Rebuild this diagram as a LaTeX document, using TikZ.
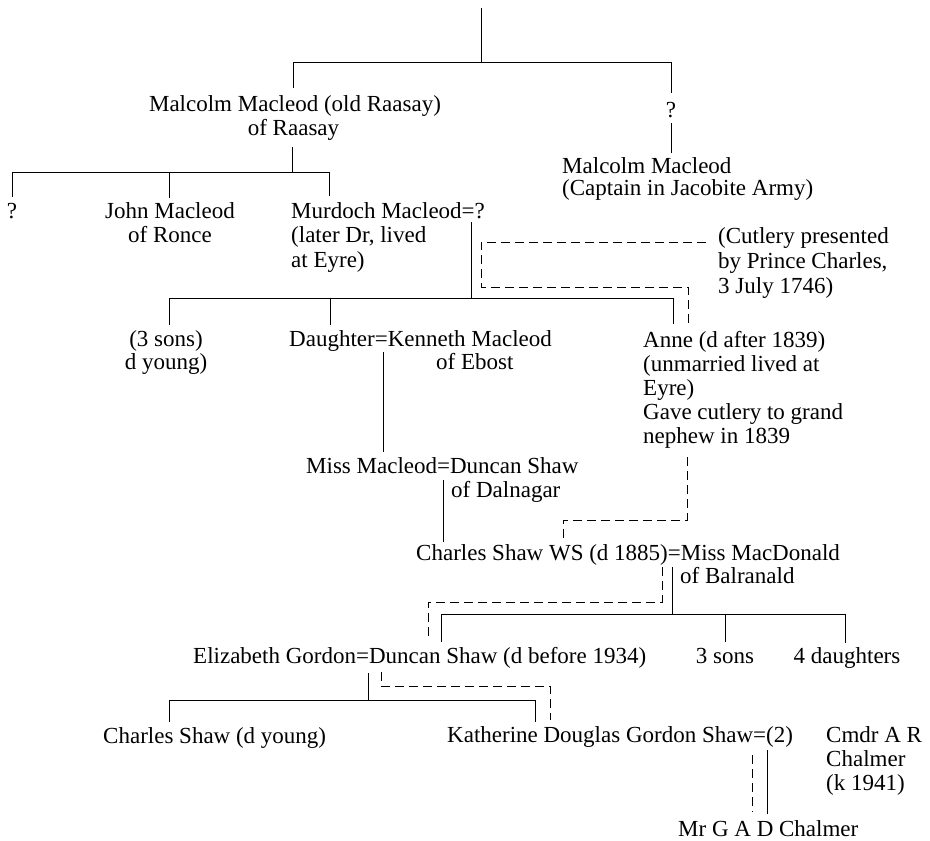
\documentclass[tikz,border=0pt]{standalone}
\usepackage{fontspec}
\setmainfont{Liberation Serif}
\newcommand\famfs{\fontsize{23}{24}\selectfont}
\tikzset{
  lbl/.style={inner sep=0pt, anchor=base west, font=\famfs},
  lblc/.style={inner sep=0pt, anchor=base, font=\famfs},
  solidline/.style={line width=0.9pt},
  dashline/.style={line width=0.9pt, dash pattern=on 9pt off 5pt},
}
\begin{document}
\begin{tikzpicture}[x=1pt,y=-1pt]
\useasboundingbox[fill=white] (0,0) rectangle (930,841);
% ---- text nodes
\node[lblc] (mm1) at (295,111) {Malcolm Macleod (old Raasay)};
\node[lblc] (mm2) at (293.5,135) {of Raasay};
\node[lblc] (q1) at (671,117) {?};
\node[lbl] (mc1) at (562,173) {Malcolm Macleod};
\node[lbl] (mc2) at (562,195) {(Captain in Jacobite Army)};
\node[lblc] (q2) at (12,218) {?};
\node[lblc] (jm1) at (170,218) {John Macleod};
\node[lblc] (jm2) at (170,242) {of Ronce};
\node[lbl] (md1) at (291,218) {Murdoch Macleod=?};
\node[lbl] (md2) at (291,242) {(later Dr, lived};
\node[lbl] (md3) at (291,267) {at Eyre)};
\node[lbl] (cu1) at (718,243) {(Cutlery presented};
\node[lbl] (cu2) at (718,268) {by Prince Charles,};
\node[lbl] (cu3) at (718,293) {3 July 1746)};
\node[lblc] (ts1) at (166,346) {(3 sons)};
\node[lblc] (ts2) at (166,369) {d young)};
\node[lbl] (dk1) at (289,346) {Daughter=Kenneth Macleod};
\node[lbl] (dk2) at (436,369) {of Ebost};
\node[lbl] (an1) at (643,347) {Anne (d after 1839)};
\node[lbl] (an2) at (643,371) {(unmarried lived at};
\node[lbl] (an3) at (643,395) {Eyre)};
\node[lbl] (an4) at (643,419) {Gave cutlery to grand};
\node[lbl] (an5) at (643,443) {nephew in 1839};
\node[lbl] (mi1) at (306,473) {Miss Macleod=Duncan Shaw};
\node[lbl] (mi2) at (451,497) {of Dalnagar};
\node[lbl] (cs1) at (416,560) {Charles Shaw WS (d 1885)=Miss MacDonald};
\node[lbl] (cs2) at (680,583) {of Balranald};
\node[lbl] (eg) at (193,663) {Elizabeth Gordon=Duncan Shaw (d before 1934)};
\node[lblc] (sons) at (725,663) {3 sons};
\node[lblc] (dau) at (847,663) {4 daughters};
\node[lbl] (csy) at (103,743) {Charles Shaw (d young)};
\node[lbl] (kd) at (447,742) {Katherine Douglas Gordon Shaw=(2)};
\node[lbl] (cm1) at (826,742) {Cmdr A R};
\node[lbl] (cm2) at (826,766) {Chalmer};
\node[lbl] (cm3) at (826,790) {(k 1941)};
\node[lbl] (gad) at (678,836) {Mr G A D Chalmer};
% ---- junction coordinates
\coordinate (r0) at (481,8);
\coordinate (r1) at (481,62);
\coordinate (g1l) at (293,62);
\coordinate (g1r) at (671,62);
\coordinate (mmT) at (293,88);
\coordinate (q1T) at (671,93);
\coordinate (q1B) at (671,123);
\coordinate (mcT) at (671,153);
\coordinate (mmB) at (292,147);
\coordinate (g2c) at (292,172);
\coordinate (g2l) at (12,172);
\coordinate (g2m) at (169,172);
\coordinate (g2r) at (329,172);
\coordinate (q2T) at (12,197);
\coordinate (jmT) at (169,198);
\coordinate (mdT) at (329,196);
\coordinate (mdB) at (471,222);
\coordinate (g3c) at (471,298);
\coordinate (g3l) at (169,298);
\coordinate (g3m) at (330,298);
\coordinate (g3r) at (673,298);
\coordinate (tsT) at (169,325);
\coordinate (dkT) at (330,325);
\coordinate (anT) at (673,324);
\coordinate (dkB) at (383,352);
\coordinate (miT) at (383,452);
\coordinate (miB) at (443,480);
\coordinate (csT) at (443,542);
\coordinate (csB) at (672,567);
\coordinate (g4c) at (672,614);
\coordinate (g4l) at (441,614);
\coordinate (g4m) at (725,614);
\coordinate (g4r) at (845,614);
\coordinate (egT) at (441,642);
\coordinate (sonsT) at (725,642);
\coordinate (dauT) at (845,643);
\coordinate (egB) at (368,673);
\coordinate (g5c) at (368,700);
\coordinate (g5l) at (169,700);
\coordinate (g5r) at (535,700);
\coordinate (csyT) at (169,722);
\coordinate (kdT) at (535,722);
\coordinate (kdB) at (767,750);
\coordinate (gadT) at (767,814);
% dashed route points
\coordinate (d1a) at (706,242);
\coordinate (d1b) at (481,242);
\coordinate (d1c) at (481,287);
\coordinate (d1d) at (688,287);
\coordinate (d1e) at (688,324);
\coordinate (d2a) at (687,457);
\coordinate (d2b) at (687,520);
\coordinate (d2c) at (563,520);
\coordinate (d2d) at (563,538);
\coordinate (d3a) at (662,567);
\coordinate (d3b) at (662,602);
\coordinate (d3c) at (428,602);
\coordinate (d3d) at (428,640);
\coordinate (d4a) at (381,672);
\coordinate (d4b) at (381,686);
\coordinate (d4c) at (550,686);
\coordinate (d4d) at (550,720);
\coordinate (d5a) at (752,755);
\coordinate (d5b) at (752,812);
% ---- solid connectors
\draw[solidline] (r0) -- (r1);
\draw[solidline] (mmT) -- (g1l) -- (g1r) -- (q1T);
\draw[solidline] (q1B) -- (mcT);
\draw[solidline] (mmB) -- (g2c);
\draw[solidline] (q2T) -- (g2l) -- (g2r) -- (mdT);
\draw[solidline] (g2m) -- (jmT);
\draw[solidline] (mdB) -- (g3c);
\draw[solidline] (tsT) -- (g3l) -- (g3r) -- (anT);
\draw[solidline] (g3m) -- (dkT);
\draw[solidline] (dkB) -- (miT);
\draw[solidline] (miB) -- (csT);
\draw[solidline] (csB) -- (g4c);
\draw[solidline] (egT) -- (g4l) -- (g4r) -- (dauT);
\draw[solidline] (g4m) -- (sonsT);
\draw[solidline] (egB) -- (g5c);
\draw[solidline] (csyT) -- (g5l) -- (g5r) -- (kdT);
\draw[solidline] (kdB) -- (gadT);
% ---- dashed connectors (cutlery route)
\draw[dashline] (d1a) -- (d1b) -- (d1c) -- (d1d) -- (d1e);
\draw[dashline] (d2a) -- (d2b) -- (d2c) -- (d2d);
\draw[dashline] (d3a) -- (d3b) -- (d3c) -- (d3d);
\draw[dashline] (d4a) -- (d4b) -- (d4c) -- (d4d);
\draw[dashline] (d5a) -- (d5b);
\end{tikzpicture}
\end{document}
